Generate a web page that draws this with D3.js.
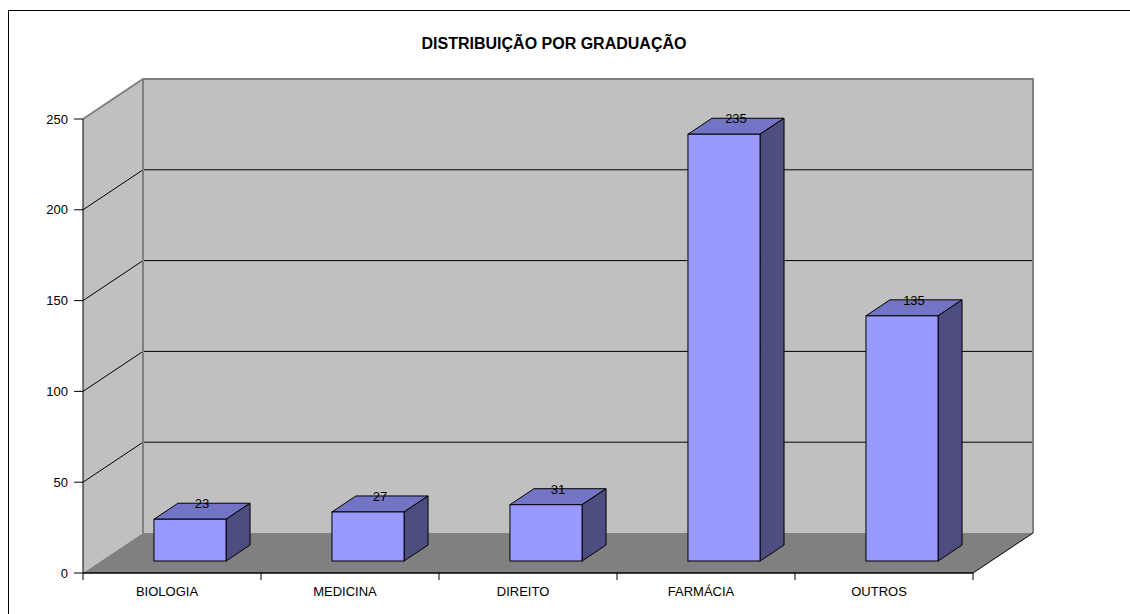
<!DOCTYPE html>
<html>
<head>
<meta charset="utf-8">
<script src="https://cdn.jsdelivr.net/npm/d3@7"></script>
<style>
  html, body { margin: 0; padding: 0; background: #fff; }
  svg { display: block; font-family: "Liberation Sans", Arial, sans-serif; }
</style>
</head>
<body>
<svg id="chart" width="1130" height="614"></svg>
<script>
const title = "DISTRIBUIÇÃO POR GRADUAÇÃO";
const categories = ["BIOLOGIA", "MEDICINA", "DIREITO", "FARMÁCIA", "OUTROS"];
const values = [23, 27, 31, 235, 135];
const yTicks = [0, 50, 100, 150, 200, 250];

const svg = d3.select("#chart");

// outer border (clipped at right/bottom like the reference)
svg.append("rect").attr("x", 8.5).attr("y", 10.5).attr("width", 1140).attr("height", 620)
  .attr("fill", "none").attr("stroke", "#000").attr("stroke-width", 1);

const x = d3.scaleBand().domain(categories).range([83, 973]).padding(0);
const y = d3.scaleLinear().domain([0, 250]).range([573, 119]);
const DX = 60, DY = -40;          // full depth of the 3D box
const f0 = 0.3, f1 = 0.7;          // bar depth placement

const x0 = x.range()[0], x1 = x.range()[1];
const yTop = y(250), yBot = y(0);

// side wall
svg.append("polygon")
  .attr("points", [[x0, yTop], [x0 + DX, yTop + DY], [x0 + DX, yBot + DY], [x0, yBot]].join(" "))
  .attr("fill", "#C0C0C0");
// back wall
svg.append("rect").attr("x", x0 + DX).attr("y", yTop + DY)
  .attr("width", x1 - x0).attr("height", yBot - yTop).attr("fill", "#C0C0C0");
// floor
svg.append("polygon")
  .attr("points", [[x0, yBot], [x1, yBot], [x1 + DX, yBot + DY], [x0 + DX, yBot + DY]].join(" "))
  .attr("fill", "#808080");

// gridlines (side wall diagonals + back wall horizontals)
const gridVals = yTicks.filter(v => v > 0 && v < 250);
svg.append("g").selectAll("path").data(gridVals).join("path")
  .attr("d", v => `M${x0},${y(v)}L${x0 + DX},${y(v) + DY}L${x1 + DX},${y(v) + DY}`)
  .attr("fill", "none").attr("stroke", "#000").attr("stroke-width", 1);

// wall edges (gray)
svg.append("path")
  .attr("d", `M${x0},${yTop}L${x0 + DX},${yTop + DY}L${x1 + DX},${yTop + DY}L${x1 + DX},${yBot + DY}`)
  .attr("fill", "none").attr("stroke", "#808080").attr("stroke-width", 2);
svg.append("line").attr("x1", x0 + DX).attr("x2", x0 + DX).attr("y1", yTop + DY).attr("y2", yBot + DY)
  .attr("stroke", "#808080").attr("stroke-width", 2);
// floor front-right edge
svg.append("line").attr("x1", x1).attr("y1", yBot).attr("x2", x1 + DX).attr("y2", yBot + DY)
  .attr("stroke", "#000").attr("stroke-width", 1);

// bars
const bw = x.bandwidth() * 0.405;
const bars = svg.append("g").selectAll("g").data(categories.map((c, i) => ({ c, v: values[i] }))).join("g");
bars.each(function (d) {
  const g = d3.select(this);
  const l = x(d.c) + (x.bandwidth() - bw) / 2 + f0 * DX;
  const r = l + bw;
  const b = yBot + f0 * DY;
  const t = y(d.v) + f0 * DY;
  const ddx = (f1 - f0) * DX, ddy = (f1 - f0) * DY;
  // top face
  g.append("polygon").attr("points", [[l, t], [r, t], [r + ddx, t + ddy], [l + ddx, t + ddy]].join(" "))
    .attr("fill", "#7474C5").attr("stroke", "#000").attr("stroke-width", 1).attr("stroke-linejoin", "round");
  // side face
  g.append("polygon").attr("points", [[r, t], [r + ddx, t + ddy], [r + ddx, b + ddy], [r, b]].join(" "))
    .attr("fill", "#4D4D80").attr("stroke", "#000").attr("stroke-width", 1).attr("stroke-linejoin", "round");
  // front face
  g.append("rect").attr("x", l).attr("y", t).attr("width", bw).attr("height", b - t)
    .attr("fill", "#9999FF").attr("stroke", "#000").attr("stroke-width", 1);
  // value label
  g.append("text").attr("x", l + bw / 2 + ddx / 2).attr("y", t + ddy + 5)
    .attr("text-anchor", "middle").attr("font-size", 13).attr("fill", "#000").text(d.v);
});

// y axis
svg.append("line").attr("x1", x0).attr("x2", x0).attr("y1", yTop).attr("y2", yBot)
  .attr("stroke", "#000").attr("stroke-width", 1);
const yt = svg.append("g").selectAll("g").data(yTicks).join("g");
yt.append("line").attr("x1", x0 - 9).attr("x2", x0).attr("y1", d => y(d)).attr("y2", d => y(d))
  .attr("stroke", "#000");
yt.append("text").attr("x", x0 - 15).attr("y", d => y(d)).attr("dy", "0.35em")
  .attr("text-anchor", "end").attr("font-size", 13).text(d => d);

// x axis
svg.append("line").attr("x1", x0).attr("x2", x1).attr("y1", yBot).attr("y2", yBot)
  .attr("stroke", "#000").attr("stroke-width", 1.5);
const xTickPos = [x0].concat(categories.map(c => x(c) + x.bandwidth()));
svg.append("g").selectAll("line").data(xTickPos).join("line")
  .attr("x1", d => d).attr("x2", d => d).attr("y1", yBot).attr("y2", yBot + 7).attr("stroke", "#000");
svg.append("g").selectAll("text").data(categories).join("text")
  .attr("x", d => x(d) + x.bandwidth() / 2 - 5).attr("y", 596)
  .attr("text-anchor", "middle").attr("font-size", 13).text(d => d);

// title
svg.append("text").attr("x", 554).attr("y", 49).attr("text-anchor", "middle")
  .attr("font-size", 16).attr("font-weight", "bold").text(title);
</script>
</body>
</html>
